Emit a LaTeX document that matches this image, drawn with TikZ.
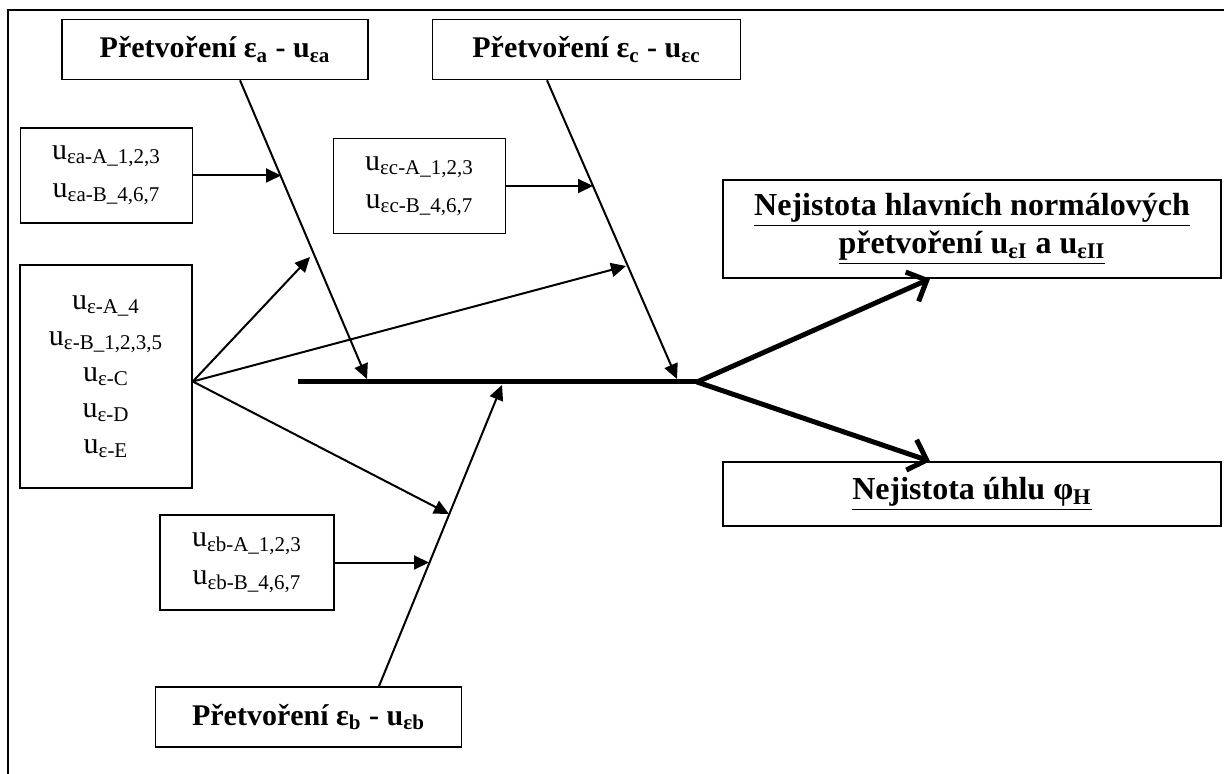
\documentclass[tikz,border=0pt]{standalone}
\usepackage{fontspec}
\setmainfont{Liberation Serif}
\usepackage{tikz}
\usetikzlibrary{positioning, arrows.meta, calc}

\begin{document}
\begin{tikzpicture}[
  x=0.5pt, y=-0.5pt,
  box/.style={draw, line width=0.8pt, inner sep=0pt, align=center},
  cause/.style={box, minimum width=153pt, minimum height=30pt, font=\fontsize{15}{17}\selectfont\bfseries},
  sub/.style={box, minimum width=86pt, minimum height=47.5pt, font=\fontsize{15}{19}\selectfont},
  effect/.style={box, minimum width=249pt, font=\fontsize{16}{19}\selectfont\bfseries},
  bone/.style={line width=1pt, -{Triangle[length=7.5pt, width=7pt]}},
  head/.style={line width=2.5pt, -{Straight Barb[length=8pt, width=16pt]}}
]
  \useasboundingbox (0,0) rectangle (1224,774);
  \draw[line width=1pt] (8,774) -- (8,10) -- (1224,10);

  % --- nodes: causes, their sub-causes, effects ---
  \node[cause] (ea) at (215,49.5) {Přetvoření ε\textsubscript{a} - u\textsubscript{εa}};
  \node[cause, minimum width=154pt] (ec) at (586.5,49.5) {Přetvoření ε\textsubscript{c} - u\textsubscript{εc}};
  \node[cause] (eb) at (308.5,717) {Přetvoření ε\textsubscript{b} - u\textsubscript{εb}};

  \node[sub] (easub) at (106.5,175.5) {u\textsubscript{εa-A\_1,2,3}\\u\textsubscript{εa-B\_4,6,7}};
  \node[sub] (ecsub) at (419.5,186) {u\textsubscript{εc-A\_1,2,3}\\u\textsubscript{εc-B\_4,6,7}};
  \node[sub, minimum width=87pt] (ebsub) at (247,562.5) {u\textsubscript{εb-A\_1,2,3}\\u\textsubscript{εb-B\_4,6,7}};
  \node[sub, minimum height=111.5pt, font=\fontsize{15}{18}\selectfont] (all) at (106,376.5)
    {u\textsubscript{ε-A\_4}\\u\textsubscript{ε-B\_1,2,3,5}\\u\textsubscript{ε-C}\\u\textsubscript{ε-D}\\u\textsubscript{ε-E}};

  \node[effect, minimum height=49pt] (res1) at (972,229)
    {\underline{Nejistota hlavních normálových}\\\underline{přetvoření u\textsubscript{εI} a u\textsubscript{εII}}};
  \node[effect, minimum height=32pt] (res2) at (972,494) {\underline{Nejistota úhlu φ\textsubscript{H}}};

  % --- spine and bone ends ---
  \coordinate (tail) at (298,382);
  \coordinate (mid) at (697,382);
  \coordinate (ea-end) at (367,379);
  \coordinate (ec-end) at (677,379);
  \coordinate (eb-end) at (502,385);
  \coordinate (ea-hit) at (281,175.5);
  \coordinate (ec-hit) at (593,186);
  \coordinate (eb-hit) at (429,562.5);
  \coordinate (ea-all) at (310,257);
  \coordinate (ec-all) at (626,266);
  \coordinate (eb-all) at (449,514);

  % --- edges ---
  \draw[line width=2.5pt] (tail) -- (mid);
  \draw[bone] ($(ea.south)+(25,0)$) -- (ea-end);
  \draw[bone] ($(ec.south)+(-39.5,0)$) -- (ec-end);
  \draw[bone] ($(eb.north)+(70.5,0)$) -- (eb-end);
  \draw[bone] (easub.east) -- (ea-hit);
  \draw[bone] (ecsub.east) -- (ec-hit);
  \draw[bone] (ebsub.east) -- (eb-hit);
  \draw[bone] ($(all.east)+(0,5)$) -- (ea-all);
  \draw[bone] ($(all.east)+(0,5)$) -- (ec-all);
  \draw[bone] ($(all.east)+(0,5)$) -- (eb-all);
  \draw[head] (mid) -- ($(res1.south)+(-42,0)$);
  \draw[head] (mid) -- ($(res2.north)+(-42,0)$);
\end{tikzpicture}
\end{document}
